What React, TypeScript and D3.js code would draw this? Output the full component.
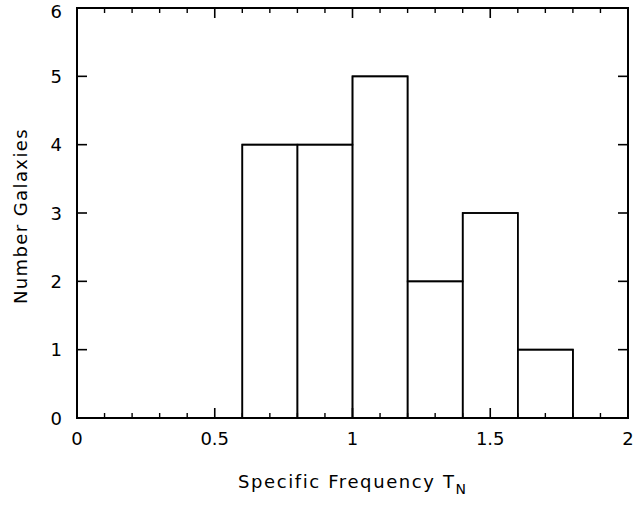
import React from "react";
import * as d3 from "d3";

const binStarts = [0.6, 0.8, 1.0, 1.2, 1.4, 1.6];
const binWidth = 0.2;
const counts = [4, 4, 5, 2, 3, 1];
const xMajorTicks = [0, 0.5, 1, 1.5, 2];
const xTickLabels = ["0", "0.5", "1", "1.5", "2"];
const yMajorTicks = [0, 1, 2, 3, 4, 5, 6];

const W = 636, H = 506;
const m = { left: 77, right: 8, top: 8, bottom: 88 };

export default function App() {
  const x = d3.scaleLinear().domain([0, 2]).range([m.left, W - m.right]);
  const y = d3.scaleLinear().domain([0, 6]).range([H - m.bottom, m.top]);
  const minor = d3.range(0, 2.0001, 0.1).filter(v => Math.abs(v * 2 - Math.round(v * 2)) > 1e-6);
  const font = "'DejaVu Sans', sans-serif";
  const x0 = x(0), x1 = x(2), y0 = y(0), y1 = y(6);

  const histPath = (() => {
    const p = d3.path();
    p.moveTo(x0, y0);
    p.lineTo(x(binStarts[0]), y0);
    binStarts.forEach((b, i) => {
      p.lineTo(x(b), y(counts[i]));
      p.lineTo(x(b + binWidth), y(counts[i]));
    });
    p.lineTo(x(binStarts[binStarts.length - 1] + binWidth), y0);
    return p.toString();
  })();

  return (
    <svg width={W} height={H} style={{ position: "absolute", left: 0, top: 0, background: "#fff" }}>
      {binStarts.map((b, i) => (
        <rect key={i} x={x(b)} y={y(counts[i])} width={x(b + binWidth) - x(b)} height={y0 - y(counts[i])}
          fill="none" stroke="#000" strokeWidth={1.6} />
      ))}
      <path d={histPath} fill="none" stroke="#000" strokeWidth={1.6} />
      <rect x={x0} y={y1} width={x1 - x0} height={y0 - y1} fill="none" stroke="#000" strokeWidth={2} />
      {xMajorTicks.map(v => (
        <g key={"xm" + v}>
          <line x1={x(v)} x2={x(v)} y1={y0} y2={y0 - 10} stroke="#000" strokeWidth={1.6} />
          <line x1={x(v)} x2={x(v)} y1={y1} y2={y1 + 10} stroke="#000" strokeWidth={1.6} />
        </g>
      ))}
      {minor.map(v => (
        <g key={"xn" + v}>
          <line x1={x(v)} x2={x(v)} y1={y0} y2={y0 - 5} stroke="#000" strokeWidth={1.4} />
          <line x1={x(v)} x2={x(v)} y1={y1} y2={y1 + 5} stroke="#000" strokeWidth={1.4} />
        </g>
      ))}
      {yMajorTicks.map(v => (
        <g key={"ym" + v}>
          <line x1={x0} x2={x0 + 10} y1={y(v)} y2={y(v)} stroke="#000" strokeWidth={1.6} />
          <line x1={x1} x2={x1 - 10} y1={y(v)} y2={y(v)} stroke="#000" strokeWidth={1.6} />
        </g>
      ))}
      {xMajorTicks.map((v, i) => (
        <text key={"xl" + v} x={x(v)} y={445} textAnchor="middle" fontFamily={font} fontSize={18}>{xTickLabels[i]}</text>
      ))}
      {yMajorTicks.map(v => (
        <text key={"yl" + v} x={62} y={Math.max(y(v) + 6.5, 17.5)} textAnchor="end" fontFamily={font} fontSize={18}>{v}</text>
      ))}
      <text x={238} y={488} textAnchor="start" fontFamily={font} fontSize={18} letterSpacing={1.6}>
        Specific Frequency T<tspan dy={6} fontSize={14}>N</tspan>
      </text>
      <text transform={`translate(27,${(y0 + y1) / 2 + 3}) rotate(-90)`} textAnchor="middle" fontFamily={font} fontSize={18} letterSpacing={1.4}>
        Number Galaxies
      </text>
    </svg>
  );
}
